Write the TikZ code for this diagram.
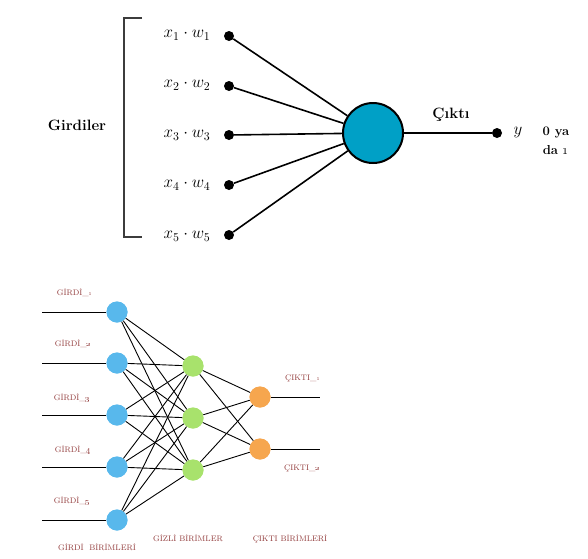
\RequirePackage{fix-cm}
\documentclass[tikz,border=0pt]{standalone}
\usepackage{tikz}
\usetikzlibrary{positioning}
\definecolor{noronmavi}{RGB}{0,160,198}
\definecolor{girdimavi}{RGB}{88,184,236}
\definecolor{gizliyesil}{RGB}{168,226,108}
\definecolor{ciktiturun}{RGB}{246,166,78}
\definecolor{etiketkirmizi}{RGB}{145,58,58}
\definecolor{koyugri}{RGB}{60,60,60}

\begin{document}
\begin{tikzpicture}[x=1pt, y=-1pt,
    nokta/.style={circle, fill=black, inner sep=0pt, minimum size=10pt},
    noron/.style={circle, draw, line width=2pt, fill=noronmavi, minimum size=60pt, inner sep=0pt},
    carpim/.style={font=\fontsize{17}{19}\selectfont},
    baslik/.style={font=\bfseries\fontsize{15}{16}\selectfont, align=center},
    girdi/.style={circle, fill=girdimavi, minimum size=21pt, inner sep=0pt},
    gizli/.style={circle, fill=gizliyesil, minimum size=21pt, inner sep=0pt},
    cikti/.style={circle, fill=ciktiturun, minimum size=21pt, inner sep=0pt},
    etiket/.style={text=etiketkirmizi, font=\fontsize{8}{10}\selectfont},
    kalin/.style={line width=1.6pt},
    ince/.style={line width=0.9pt}
]
\useasboundingbox (0,0) rectangle (588,558);

% ust kisim: tek noron
\draw[koyugri, line width=1.2pt] (142,18) -- (124,18) -- (124,237) -- (142,237);
\node[baslik] (girdiler) at (77,125) {Girdiler};

\node[carpim] (xw1) at (187,35) {$x_1 \cdot w_1$};
\node[carpim] (xw2) at (187,85) {$x_2 \cdot w_2$};
\node[carpim] (xw3) at (187,135) {$x_3 \cdot w_3$};
\node[carpim] (xw4) at (187,185) {$x_4 \cdot w_4$};
\node[carpim] (xw5) at (187,236) {$x_5 \cdot w_5$};

\node[nokta] (d1) at (229,36) {};
\node[nokta] (d2) at (229,86) {};
\node[nokta] (d3) at (229,135) {};
\node[nokta] (d4) at (229,185) {};
\node[nokta] (d5) at (229,235) {};

\node[noron] (noron) at (373,133) {};
\node[nokta] (dy) at (497,133) {};
\node[baslik] (cikti) at (451,115) {Çıktı};
\node[carpim] (y) at (518,132) {$y$};
\node[baslik, font=\bfseries\fontsize{13}{19}\selectfont] (sonuc) at (556,141) {0 ya\\da \oldstylenums{1}};

\foreach \i in {1,...,5}
    \draw[kalin] (d\i) -- (noron);
\draw[kalin] (noron) -- (dy);

% alt kisim: cok katmanli ag
\node[girdi] (g1) at (117,312) {};
\node[girdi] (g2) at (117,363) {};
\node[girdi] (g3) at (117,415) {};
\node[girdi] (g4) at (117,467) {};
\node[girdi] (g5) at (117,520) {};

\node[gizli] (h1) at (193,366) {};
\node[gizli] (h2) at (193,418) {};
\node[gizli] (h3) at (193,470) {};

\node[cikti] (c1) at (260,397) {};
\node[cikti] (c2) at (260,449) {};

\node[etiket] (lg1) at (75,293) {GİRDİ\_\oldstylenums{1}};
\node[etiket] (lg2) at (73,344) {GİRDİ\_\oldstylenums{2}};
\node[etiket] (lg3) at (72,398) {GİRDİ\_\oldstylenums{3}};
\node[etiket] (lg4) at (73,450) {GİRDİ\_\oldstylenums{4}};
\node[etiket] (lg5) at (72,501) {GİRDİ\_\oldstylenums{5}};
\node[etiket] (lc1) at (303,378) {ÇIKTI\_\oldstylenums{1}};
\node[etiket] (lc2) at (302,468) {ÇIKTI\_\oldstylenums{2}};

\node[etiket] (katman1) at (97,547) {GİRDİ\ \ BİRİMLERİ};
\node[etiket] (katman2) at (188,538) {GİZLİ BİRİMLER};
\node[etiket] (katman3) at (290,539) {ÇIKTI BİRİMLERİ};

\foreach \i/\yy in {1/312,2/363,3/415,4/467,5/520} {
    \coordinate (s\i) at (42,\yy);
    \draw[ince] (s\i) -- (g\i);
}
\coordinate (e1) at (320,397);
\coordinate (e2) at (320,449);
\draw[ince] (c1) -- (e1);
\draw[ince] (c2) -- (e2);

\foreach \i in {1,...,5}
    \foreach \j in {1,2,3}
        \draw[ince] (g\i) -- (h\j);
\foreach \j in {1,2,3}
    \foreach \k in {1,2}
        \draw[ince] (h\j) -- (c\k);

% dugumler cizgilerin ustunde kalsin
\foreach \n/\s in {g1/girdi,g2/girdi,g3/girdi,g4/girdi,g5/girdi,h1/gizli,h2/gizli,h3/gizli,c1/cikti,c2/cikti}
    \node[\s] at (\n) {};
\end{tikzpicture}
\end{document}
